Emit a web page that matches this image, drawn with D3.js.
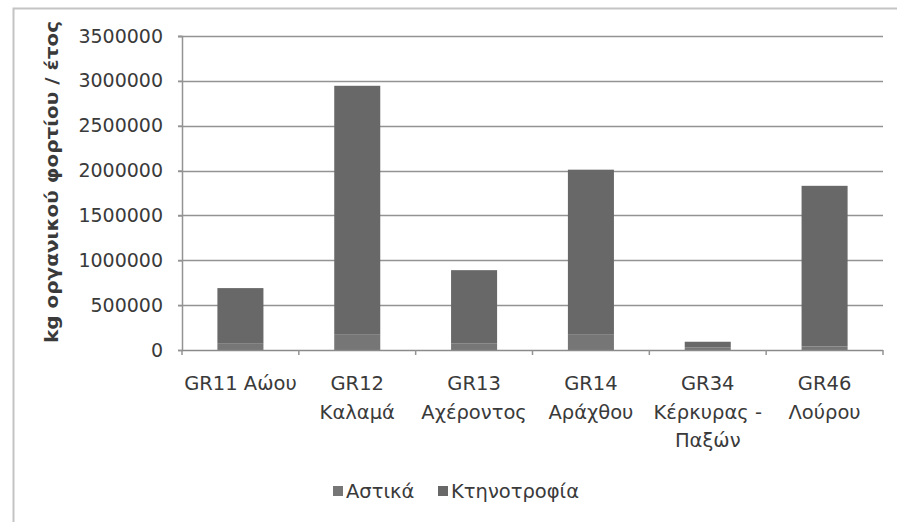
<!DOCTYPE html>
<html>
<head>
<meta charset="utf-8">
<script src="https://cdn.jsdelivr.net/npm/d3@7"></script>
<style>
  html, body { margin: 0; padding: 0; background: #fff; }
  svg { display: block; }
  text { font-family: "DejaVu Sans", sans-serif; fill: #3a3a3a; }
</style>
</head>
<body>
<svg id="chart" width="897" height="522"></svg>
<script>
// River basin districts (two-line labels)
const categories = ["GR11 Αώου", "GR12 Καλαμά", "GR13 Αχέροντος", "GR14 Αράχθου", "GR34 Κέρκυρας - Παξών", "GR46 Λούρου"];
const categoryLines = [["GR11 Αώου"], ["GR12", "Καλαμά"], ["GR13", "Αχέροντος"], ["GR14", "Αράχθου"], ["GR34", "Κέρκυρας -", "Παξών"], ["GR46", "Λούρου"]];

// Organic load, kg per year
const seriesNames = ["Αστικά", "Κτηνοτροφία"];
const urban = [70000, 170000, 75000, 170000, 30000, 40000];
const livestock = [620000, 2775000, 815000, 1840000, 62000, 1790000];

const yTicks = [0, 500000, 1000000, 1500000, 2000000, 2500000, 3000000, 3500000];
const yLabel = "kg οργανικού φορτίου / έτος";

const colors = ["#767676", "#686868"];

const svg = d3.select("#chart");
const plot = { left: 182, right: 883, top: 36, bottom: 350 };

// outer frame
svg.append("path")
  .attr("d", `M13.5,540 V8.5 H900`)
  .attr("fill", "none")
  .attr("stroke", "#c4c4c4")
  .attr("stroke-width", 2);

const x = d3.scaleBand()
  .domain(categories)
  .range([plot.left, plot.right])
  .paddingInner(0.606)
  .paddingOuter(0.303);

const y = d3.scaleLinear()
  .domain([0, 3500000])
  .range([plot.bottom, plot.top]);

// gridlines
svg.append("g")
  .selectAll("line")
  .data(yTicks.filter(d => d > 0))
  .join("line")
  .attr("x1", plot.left - 4)
  .attr("x2", plot.right)
  .attr("y1", d => Math.round(y(d)) + 0.5)
  .attr("y2", d => Math.round(y(d)) + 0.5)
  .attr("stroke", "#939393")
  .attr("stroke-width", 1.5);

// stacked bars
const table = categories.map((c, i) => ({ cat: c, [seriesNames[0]]: urban[i], [seriesNames[1]]: livestock[i] }));
const stacked = d3.stack().keys(seriesNames)(table);

svg.append("g")
  .selectAll("g")
  .data(stacked)
  .join("g")
  .attr("fill", (d, i) => colors[i])
  .selectAll("rect")
  .data(d => d)
  .join("rect")
  .attr("x", d => x(d.data.cat))
  .attr("width", x.bandwidth())
  .attr("y", d => y(d[1]))
  .attr("height", d => y(d[0]) - y(d[1]));

// y axis
const yAxis = svg.append("g")
  .attr("transform", `translate(${plot.left},0)`)
  .call(d3.axisLeft(y).tickValues(yTicks).tickFormat(d3.format("d")).tickSize(4).tickPadding(15));
yAxis.select(".domain").attr("stroke", "#939393").attr("stroke-width", 1.5);
yAxis.selectAll(".tick line").attr("stroke", "#939393").attr("stroke-width", 1.5);
yAxis.selectAll(".tick text")
  .attr("font-size", 19)
  .attr("font-family", "DejaVu Sans, sans-serif")
  .attr("fill", "#3a3a3a");

// x axis baseline and category separators
const xAxis = svg.append("g")
  .attr("transform", `translate(0,${plot.bottom})`);
xAxis.append("line")
  .attr("x1", plot.left).attr("x2", plot.right)
  .attr("y1", 0.5).attr("y2", 0.5)
  .attr("stroke", "#8a8a8a").attr("stroke-width", 1.5);
const step = x.step();
xAxis.selectAll("line.sep")
  .data(d3.range(categories.length + 1))
  .join("line")
  .attr("class", "sep")
  .attr("x1", i => plot.left + i * step)
  .attr("x2", i => plot.left + i * step)
  .attr("y1", 0).attr("y2", 5)
  .attr("stroke", "#939393").attr("stroke-width", 1.5);

// category labels
const labels = svg.append("g")
  .selectAll("text")
  .data(categories)
  .join("text")
  .attr("x", d => x(d) + x.bandwidth() / 2)
  .attr("y", 390)
  .attr("text-anchor", "middle")
  .attr("font-size", 19.5);
labels.selectAll("tspan")
  .data((d, i) => categoryLines[i])
  .join("tspan")
  .attr("x", function () { return this.parentNode.getAttribute("x"); })
  .attr("dy", (d, i) => i === 0 ? 0 : 28.5)
  .text(d => d);

// y axis title
svg.append("text")
  .attr("transform", `translate(58,182) rotate(-90)`)
  .attr("text-anchor", "middle")
  .attr("font-size", 17.5)
  .attr("font-weight", "bold")
  .attr("fill", "#2a2a2a")
  .attr("textLength", 322)
  .attr("lengthAdjust", "spacingAndGlyphs")
  .text(yLabel);

// legend
const legend = svg.append("g").attr("transform", "translate(333,498)");
const legendX = [0, 105];
const items = legend.selectAll("g")
  .data(seriesNames)
  .join("g")
  .attr("transform", (d, i) => `translate(${legendX[i]},0)`);
items.append("rect")
  .attr("x", 0).attr("y", -12)
  .attr("width", 10).attr("height", 10)
  .attr("fill", (d, i) => colors[i]);
items.append("text")
  .attr("x", 13).attr("y", 0)
  .attr("font-size", 19.5)
  .text(d => d);
</script>
</body>
</html>
